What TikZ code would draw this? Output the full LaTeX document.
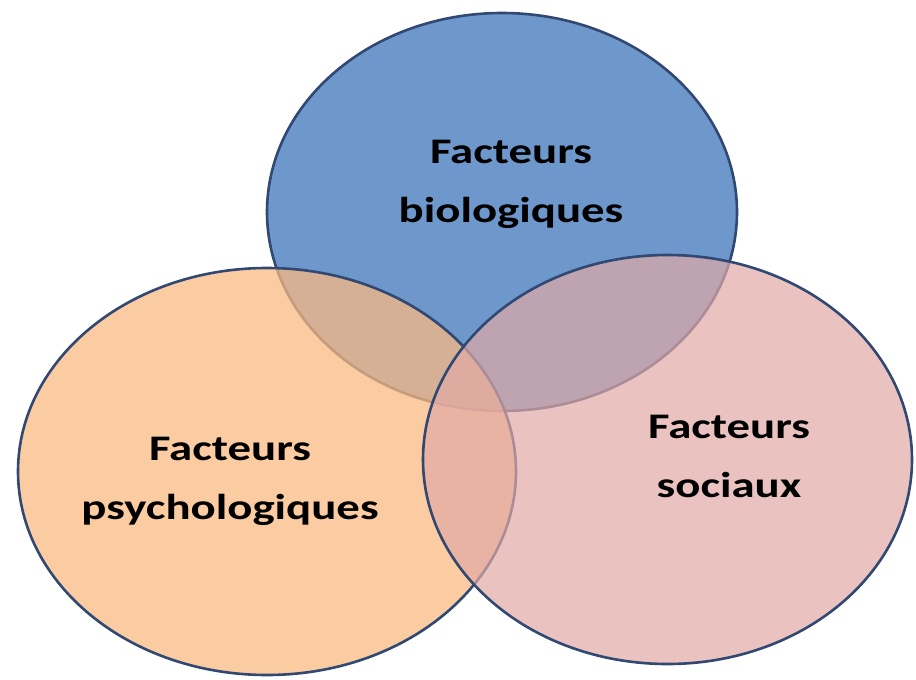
\documentclass[tikz,border=0pt]{standalone}
\usepackage{fontspec}
\setmainfont{Carlito}
\usetikzlibrary{calc,positioning}

\definecolor{cBioFill}{RGB}{74,126,190}
\definecolor{cPsyFill}{RGB}{250,185,130}
\definecolor{cSocFill}{RGB}{225,170,166}
\definecolor{cRim}{RGB}{48,72,114}

\tikzset{
  rim/.style={draw=cRim, line width=2.6pt},
  lbl/.style={font=\bfseries\fontsize{36}{59}\selectfont, align=center, xscale=1.3, text=black, inner sep=0pt}
}

\begin{document}
\begin{tikzpicture}[x=1pt, y=-1pt]
        \useasboundingbox (0,0) rectangle (916,680);

        \coordinate (cBioPt) at (502,212);
        \coordinate (cPsyPt) at (267,471.5);
        \coordinate (cSocPt) at (667.5,459.5);

        \draw[rim, fill=cBioFill, fill opacity=0.8] (cBioPt) ellipse [x radius=235pt, y radius=199pt];
        \draw[rim, fill=cPsyFill, fill opacity=0.75] (cPsyPt) ellipse [x radius=249pt, y radius=203.5pt];
        \draw[rim, fill=cSocFill, fill opacity=0.7] (cSocPt) ellipse [x radius=244.5pt, y radius=204.5pt];

%        \draw[rim] (cBioPt) -- (cSocPt);
        \node[lbl] (nBioLbl) at (511,184) {Facteurs\\biologiques};
        \node[lbl] (nPsyLbl) at (230,481) {Facteurs\\psychologiques};
        \node[lbl] (nSocLbl) at (729,456) {Facteurs\\sociaux};
\end{tikzpicture}
\end{document}
